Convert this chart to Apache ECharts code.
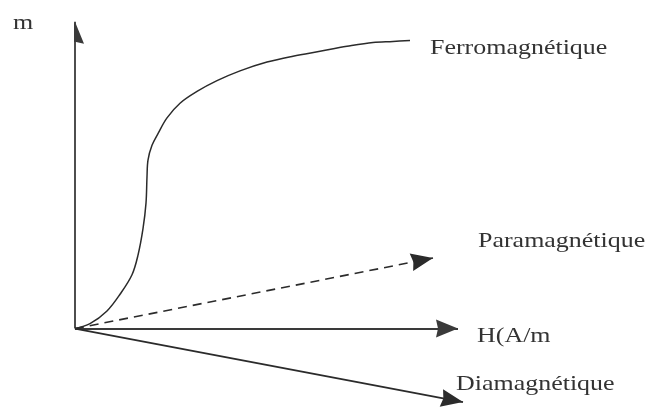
<!DOCTYPE html>
<html>
<head>
<meta charset="utf-8">
<script src="https://cdn.jsdelivr.net/npm/echarts@6/dist/echarts.min.js"></script>
<style>
  html, body { margin: 0; padding: 0; background: #fff; }
  #chart { width: 650px; height: 407px; }
</style>
</head>
<body>
<div id="chart"></div>
<script>
// Magnetisation m versus field H for the three kinds of material (schematic)
const axisH = [[0, 0], [95.75, 0]];
const axisM = [[0, 0], [0, 78.25]];
const paraLine = [[0, 0], [89.5, 18]];
const diaLine = [[0, 0], [97, -18.75]];
const ferroCurve = [
  [0, 0], [3.75, 1.25], [8, 4.5], [11.25, 8.75], [14.25, 13.75], [15.75, 18.75],
  [17, 25.5], [17.75, 32], [18, 38.75], [18.25, 43], [19.25, 46.75], [20.75, 49.75],
  [23, 53.75], [26.25, 57.5], [30.5, 60.5], [35.5, 63.25], [41.25, 65.75],
  [48, 68], [54.5, 69.5], [61.25, 70.75], [68, 72], [74.5, 73], [79.5, 73.25],
  [83.75, 73.5]
];
const labels = {
  m: 'm',
  ferro: 'Ferromagnétique',
  para: 'Paramagnétique',
  h: 'H(A/m',
  dia: 'Diamagnétique'
};

const ink = '#2b2b2b';
// solid arrowhead; the leading moveTo pads the box so the tip sits on the line end
const arrowPath = 'path://M9,-22 M9,0 L18,22 L9,20 L0,22 Z';
const arrowHead = [18, 44];

function arrowSeries(coords, style) {
  return {
    type: 'lines',
    coordinateSystem: 'cartesian2d',
    polyline: false,
    silent: true,
    symbol: ['none', arrowPath],
    symbolSize: [0, arrowHead],
    lineStyle: Object.assign({ color: ink, width: 1.6, opacity: 1 }, style || {}),
    data: [{ coords: coords }]
  };
}

function textEl(str, x, y) {
  return {
    type: 'text',
    x: x, y: y,
    scaleX: 1.18,
    silent: true,
    style: {
      text: str,
      fontFamily: '"Liberation Serif", "DejaVu Serif", serif',
      fontSize: 22,
      fill: '#333',
      align: 'left',
      verticalAlign: 'middle'
    }
  };
}

const chart = echarts.init(document.getElementById('chart'), null, { renderer: 'canvas' });
chart.setOption({
  animation: false,
  backgroundColor: '#fff',
  grid: { left: 75, right: 175, top: 15, bottom: -8 },
  xAxis: { type: 'value', min: 0, max: 100, show: false },
  yAxis: { type: 'value', min: -20, max: 80, show: false },
  series: [
    arrowSeries(axisH, { color: '#3a3a3a', width: 1.8 }),
    arrowSeries(axisM, { color: '#3a3a3a', width: 1.8 }),
    arrowSeries(paraLine, { type: [9, 6], width: 1.6 }),
    arrowSeries(diaLine, { width: 1.8 }),
    {
      type: 'line',
      data: ferroCurve,
      smooth: 0.35,
      showSymbol: false,
      silent: true,
      lineStyle: { color: ink, width: 1.5 }
    }
  ],
  graphic: [
    textEl(labels.m, 13, 23),
    textEl(labels.ferro, 430, 48),
    textEl(labels.para, 478, 241),
    textEl(labels.h, 477, 336),
    textEl(labels.dia, 456, 384)
  ]
});
</script>
</body>
</html>
